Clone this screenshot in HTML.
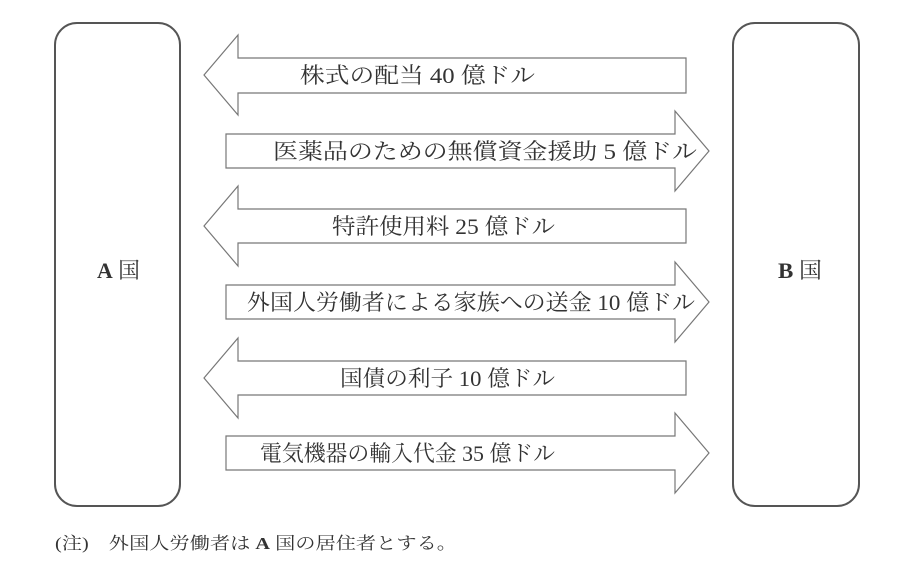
<!DOCTYPE html>
<html><head><meta charset="utf-8"><style>
html,body{margin:0;padding:0;background:#fff;}
svg text{font-family:"Liberation Serif","Noto Serif CJK JP","Noto Serif CJK SC",serif;fill:#333;}
</style></head><body>
<svg width="897" height="567" viewBox="0 0 897 567" xmlns="http://www.w3.org/2000/svg">
<g fill="none" stroke="#555" stroke-width="2">
<rect x="55" y="23" width="125" height="483" rx="22"/>
<rect x="733" y="23" width="126" height="483" rx="22"/>
</g>
<g fill="#fff" stroke="#777" stroke-width="1.2">
<polygon points="204,75 238,35 238,58 686,58 686,93 238,93 238,115"/>
<polygon points="226,134 675,134 675,111 709,151 675,191 675,168 226,168"/>
<polygon points="204,226 238,186 238,209 686,209 686,243 238,243 238,266"/>
<polygon points="226,285 675,285 675,262 709,302 675,342 675,319 226,319"/>
<polygon points="204,378 238,338 238,361 686,361 686,395 238,395 238,418"/>
<polygon points="226,436 675,436 675,413 709,453 675,493 675,470 226,470"/>
</g>
<g font-size="22" lengthAdjust="spacingAndGlyphs">
<text x="300" y="83" textLength="235" lengthAdjust="spacingAndGlyphs">株式の配当 40 億ドル</text>
<text x="273" y="159" textLength="424" lengthAdjust="spacingAndGlyphs">医薬品のための無償資金援助 5 億ドル</text>
<text x="332" y="234" textLength="223" lengthAdjust="spacingAndGlyphs">特許使用料 25 億ドル</text>
<text x="247" y="310" textLength="448" lengthAdjust="spacingAndGlyphs">外国人労働者による家族への送金 10 億ドル</text>
<text x="340" y="386" textLength="215" lengthAdjust="spacingAndGlyphs">国債の利子 10 億ドル</text>
<text x="260" y="461" textLength="295" lengthAdjust="spacingAndGlyphs">電気機器の輸入代金 35 億ドル</text>
<text x="97" y="278" textLength="43" lengthAdjust="spacingAndGlyphs"><tspan font-weight="bold">A</tspan> 国</text>
<text x="778" y="278" textLength="44" lengthAdjust="spacingAndGlyphs"><tspan font-weight="bold">B</tspan> 国</text>
</g>
<text x="55" y="549" font-size="17" textLength="402" lengthAdjust="spacingAndGlyphs">(注)　外国人労働者は <tspan font-weight="bold">A</tspan> 国の居住者とする。</text>
</svg>
</body></html>
